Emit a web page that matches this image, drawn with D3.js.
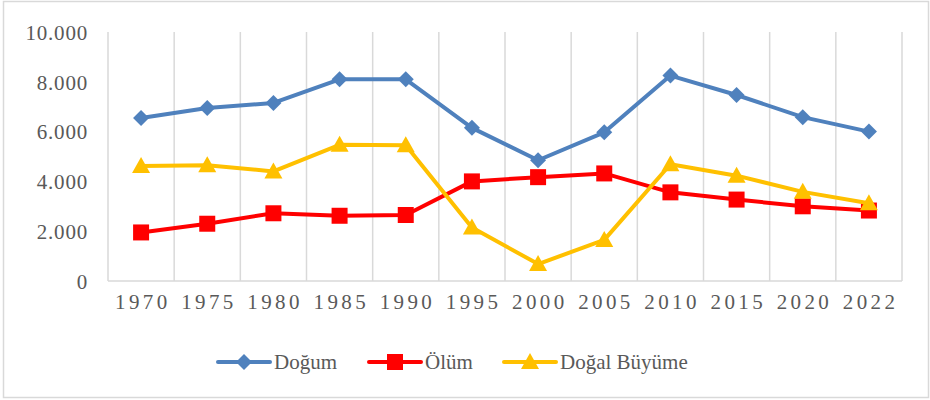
<!DOCTYPE html>
<meta charset="utf-8">
<style>
body { margin: 0; background: #fff; }
svg text { font-family: "Liberation Serif", "Times New Roman", Times, "DejaVu Serif", "Noto Serif", serif; }
.tick text { fill: #595959; }
.grid line { stroke: #d9d9d9; stroke-width: 1.5px; }
.legend text { font-size: 21px; fill: #595959; }
</style>
<body>
<script src="https://cdnjs.cloudflare.com/ajax/libs/d3/7.8.5/d3.min.js"></script>
<script>

var years = ["1970", "1975", "1980", "1985", "1990", "1995", "2000", "2005", "2010", "2015", "2020", "2022"];
var dogum  = [6550, 6950, 7150, 8100, 8100, 6150, 4850, 5970, 8250, 7470, 6580, 6000];
var olum   = [1950, 2300, 2720, 2620, 2650, 4000, 4170, 4320, 3560, 3270, 3000, 2830];
var buyume = [4620, 4650, 4400, 5470, 5450, 2150, 680, 1650, 4690, 4230, 3580, 3120];
var yTicks = [0, 2000, 4000, 6000, 8000, 10000];

var series = [
	{name: "Doğum", values: dogum, color: "#4f81bd", marker: "diamond"},
	{name: "Ölüm", values: olum, color: "#ff0000", marker: "square"},
	{name: "Doğal Büyüme", values: buyume, color: "#ffc000", marker: "triangle"}
];

var width = 930, height = 400;
var plot = {left: 108, right: 902, top: 32, bottom: 281};

var svg = d3.select("body").append("svg")
	.attr("width", width)
	.attr("height", height);

// outer frame
svg.append("rect")
	.attr("x", 3.5).attr("y", 1.5)
	.attr("width", 925).attr("height", 396)
	.attr("fill", "#fff")
	.attr("stroke", "#d9d9d9")
	.attr("stroke-width", 1.5);

var x = d3.scaleBand()
	.domain(years)
	.range([plot.left, plot.right]);

var y = d3.scaleLinear()
	.domain([0, 10000])
	.range([plot.bottom, plot.top]);

var fmt = d3.formatLocale({decimal: ",", thousands: ".", grouping: [3], currency: ["", ""]}).format(",");

// vertical gridlines at category edges
var edges = years.map(function(d) { return x(d); }).concat([plot.right]);
svg.append("g").attr("class", "grid")
	.selectAll("line")
	.data(edges)
	.enter().append("line")
	.attr("x1", function(d) { return d; })
	.attr("x2", function(d) { return d; })
	.attr("y1", plot.top)
	.attr("y2", plot.bottom);

// bottom axis line
svg.append("g").attr("class", "grid")
	.append("line")
	.attr("x1", plot.left).attr("x2", plot.right)
	.attr("y1", plot.bottom).attr("y2", plot.bottom);

// y axis labels
var yAxis = d3.axisLeft(y).tickValues(yTicks).tickFormat(fmt).tickSize(0).tickPadding(20);
var yg = svg.append("g")
	.attr("transform", "translate(" + plot.left + ",0)")
	.attr("font-family", null)
	.call(yAxis);
yg.select(".domain").remove();
yg.selectAll("text").style("font-size", "21px")
	.attr("dy", "0.35em").attr("letter-spacing", "0.8px");

// x axis labels
var xAxis = d3.axisBottom(x).tickSize(0).tickPadding(13);
var xg = svg.append("g")
	.attr("transform", "translate(0," + plot.bottom + ")")
	.call(xAxis);
xg.select(".domain").remove();
xg.selectAll("text").style("font-size", "21px")
	.attr("letter-spacing", "3.4px").attr("dx", "1.7px");

function markerPath(type) {
	if (type === "diamond") return "M0,-8L8,0L0,8L-8,0Z";
	if (type === "square") return "M-8,-8H8V8H-8Z";
	return "M0,-9L9,7H-9Z";
}

var line = d3.line()
	.x(function(d, i) { return x(years[i]) + x.bandwidth() / 2; })
	.y(function(d) { return y(d); });

series.forEach(function(s) {
	var g = svg.append("g");
	g.append("path")
		.attr("d", line(s.values))
		.attr("fill", "none")
		.attr("stroke", s.color)
		.attr("stroke-width", 4)
		.attr("stroke-linejoin", "round");
	g.selectAll(".pt")
		.data(s.values)
		.enter().append("path")
		.attr("class", "pt")
		.attr("transform", function(d, i) {
			return "translate(" + (x(years[i]) + x.bandwidth() / 2) + "," + y(d) + ")";
		})
		.attr("d", markerPath(s.marker))
		.attr("fill", s.color);
});

// legend
var legendX = [218, 369, 504];
var legend = svg.append("g").attr("class", "legend");
series.forEach(function(s, i) {
	var lg = legend.append("g").attr("transform", "translate(" + legendX[i] + ",362)");
	lg.append("line")
		.attr("x1", 0).attr("x2", 52)
		.attr("stroke", s.color)
		.attr("stroke-width", 4)
		.attr("stroke-linecap", "round");
	lg.append("path")
		.attr("transform", "translate(26,0)")
		.attr("d", markerPath(s.marker))
		.attr("fill", s.color);
	lg.append("text")
		.attr("x", 56)
		.attr("y", 0)
		.attr("dy", "0.33em")
		.text(s.name);
});

</script>
</body>
